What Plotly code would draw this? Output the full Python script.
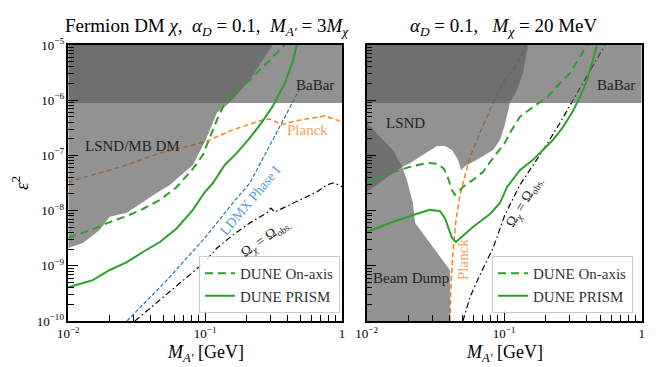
import plotly.graph_objects as go

# ---------------- data ----------------
# left panel: Fermion DM, alpha_D = 0.1, M_A' = 3 M_chi
babar_l_x = [0.01, 1.0, 1.0, 0.01]
babar_l_y = [8.9e-7, 8.9e-7, 1e-5, 1e-5]

lsnd_l_x = [0.01, 0.312, 0.264, 0.212, 0.170, 0.147, 0.122, 0.110, 0.101, 0.0813,
            0.0552, 0.0444, 0.0268, 0.0201, 0.0170, 0.0128, 0.01]
lsnd_l_y = [1e-5, 1e-5, 5.35e-6, 2.32e-6, 1.24e-6, 8.5e-7, 5.9e-7, 3.27e-7, 1.9e-7, 6.7e-8,
            2.9e-8, 2.1e-8, 9.1e-9, 7.7e-9, 4.5e-9, 2.6e-9, 2.1e-9]

planck_l_x = [0.01, 0.0151, 0.0268, 0.0467, 0.0995, 0.159, 0.264, 0.296, 0.363, 0.452,
              0.61, 0.747, 0.914, 1.0]
planck_l_y = [3.3e-8, 4.4e-8, 6.7e-8, 1.1e-7, 1.75e-7, 2.9e-7, 4.4e-7, 4.57e-7, 3.6e-7, 4.2e-7,
              4.8e-7, 5.2e-7, 4.4e-7, 3.9e-7]

ldmx_l_x = [0.0268, 0.0525, 0.0995, 0.159, 0.212, 0.351, 0.508]
ldmx_l_y = [1e-10, 5.5e-10, 3.2e-9, 1.37e-8, 3.16e-8, 3.27e-7, 1.88e-6]

omega_l_x = [0.0307, 0.0995, 0.122, 0.159, 0.212, 0.282, 0.302, 0.323, 0.369, 0.49,
             0.653, 0.773, 0.855, 0.962, 1.0]
omega_l_y = [1e-10, 1.17e-9, 2.1e-9, 3.6e-9, 5.96e-9, 9.06e-9, 1.11e-8, 9.4e-9, 1.11e-8, 1.56e-8,
             2.17e-8, 2.9e-8, 3.16e-8, 2.9e-8, 2.68e-8]

onaxis_l_x = [0.01, 0.0151, 0.0201, 0.0268, 0.0351, 0.0467, 0.0621, 0.0813, 0.0962, 0.108,
              0.122, 0.135, 0.159, 0.212, 0.264, 0.333, 0.382]
onaxis_l_y = [3.2e-9, 4.6e-9, 6.2e-9, 8.0e-9, 1.07e-8, 1.56e-8, 2.68e-8, 5.7e-8, 1.02e-7, 2.15e-7,
              4.4e-7, 7.5e-7, 1.35e-6, 2.32e-6, 4e-6, 7.2e-6, 1e-5]

prism_l_x = [0.01, 0.0151, 0.0201, 0.0268, 0.0351, 0.0467, 0.0621, 0.0813, 0.0995, 0.114,
             0.139, 0.170, 0.212, 0.26, 0.312, 0.382, 0.436, 0.467]
prism_l_y = [4.1e-10, 5.5e-10, 8.4e-10, 1.17e-9, 1.78e-9, 2.7e-9, 4.8e-9, 1.03e-8, 2.17e-8, 3.16e-8,
             6.7e-8, 1.1e-7, 2.07e-7, 4.0e-7, 7.8e-7, 2.05e-6, 4.9e-6, 1e-5]

# right panel: alpha_D = 0.1, M_chi = 20 MeV
babar_r_x = [0.01, 1.0, 1.0, 0.01]
babar_r_y = [8.9e-7, 8.9e-7, 1e-5, 1e-5]

lsnd_r_x = [0.01, 0.149, 0.137, 0.124, 0.110, 0.101, 0.0932, 0.083, 0.0634, 0.0519, 0.0486,
            0.0461, 0.0417, 0.0371, 0.0325, 0.0275, 0.0207, 0.0175, 0.01]
lsnd_r_y = [1e-5, 1e-5, 3.1e-6, 1.53e-6, 8.9e-7, 3.56e-7, 1.9e-7, 1.25e-7, 8.3e-8, 6.4e-8, 5.4e-8,
            8.3e-8, 1.25e-7, 1.48e-7, 1.48e-7, 1.15e-7, 7.3e-8, 5.9e-8, 2.17e-8]

beamdump_r_x = [0.01, 0.0155, 0.0181, 0.0196, 0.0217, 0.0225, 0.0403, 0.0403, 0.01]
beamdump_r_y = [3.9e-7, 1.25e-7, 6.2e-8, 3.6e-8, 1.37e-8, 5.96e-9, 8.4e-10, 1e-10, 1e-10]

planck_r_x = [0.0403, 0.041, 0.0425, 0.0446, 0.0477, 0.051, 0.0564, 0.0665, 0.083, 0.101, 0.124, 0.144]
planck_r_y = [1e-10, 4.5e-10, 1.93e-9, 6.8e-9, 1.92e-8, 3.6e-8, 9.35e-8, 2.55e-7, 8.9e-7, 2.32e-6, 4.5e-6, 1e-5]

omega_r_x = [0.0501, 0.0564, 0.0665, 0.083, 0.101, 0.13, 0.192, 0.255, 0.316, 0.421, 0.541]
omega_r_y = [1e-10, 2.72e-10, 6.8e-10, 2.1e-9, 8.3e-9, 2.9e-8, 1.25e-7, 3.9e-7, 1e-6, 3.5e-6, 1e-5]

onaxis_r_x = [0.01, 0.0155, 0.0207, 0.0275, 0.033, 0.0365, 0.039, 0.0417, 0.0438, 0.0501, 0.0593,
              0.070, 0.083, 0.101, 0.110, 0.130, 0.162, 0.205, 0.255, 0.301, 0.356, 0.40]
onaxis_r_y = [3.3e-8, 5.0e-8, 6.2e-8, 7.3e-8, 7.0e-8, 5.7e-8, 3.9e-8, 2.36e-8, 1.92e-8, 2.68e-8, 3.6e-8,
              5.0e-8, 9.0e-8, 1.68e-7, 2.55e-7, 5.0e-7, 7.5e-7, 1.14e-6, 2.05e-6, 3.1e-6, 6.1e-6, 1e-5]

prism_r_x = [0.01, 0.0148, 0.0217, 0.0288, 0.0341, 0.0371, 0.0397, 0.0417, 0.0446, 0.0501, 0.0593,
             0.0788, 0.0932, 0.105, 0.130, 0.162, 0.191, 0.226, 0.268, 0.311, 0.356, 0.40, 0.442, 0.473]
prism_r_y = [4.1e-9, 5.96e-9, 8.3e-9, 1.03e-8, 9.8e-9, 7.3e-9, 4.5e-9, 3.2e-9, 2.7e-9, 3.47e-9, 5.05e-9,
             8.7e-9, 1.37e-8, 2.68e-8, 5.4e-8, 8.3e-8, 1.25e-7, 1.9e-7, 3.27e-7, 5.9e-7, 1.14e-6, 2.32e-6,
             5.35e-6, 1e-5]

x_tickvals = [0.01, 0.1, 1]
x_ticktext = ["10<sup>−2</sup>", "10<sup>−1</sup>", "1"]
y_tickvals = [1e-10, 1e-9, 1e-8, 1e-7, 1e-6, 1e-5]
y_ticktext = ["10<sup>−10</sup>", "10<sup>−9</sup>", "10<sup>−8</sup>",
              "10<sup>−7</sup>", "10<sup>−6</sup>", "10<sup>−5</sup>"]

# ---------------- style ----------------
W, H = 664, 367
FONT = "Liberation Serif, DejaVu Serif, serif"
GRAY = "rgba(94,94,94,0.68)"
GREEN = "#2ca02c"
ORANGE = "#ff7f0e"
BLUE = "#1f77b4"
SP = "&nbsp;"


def P(px, py):
    # pixel position -> paper coords
    return px / W, 1 - py / H


fig = go.Figure()


def add_line(x, y, color, width, dash, xa, ya, name=None, legend=None):
    fig.add_trace(go.Scatter(
        x=x, y=y, mode='lines', xaxis=xa, yaxis=ya,
        line=dict(color=color, width=width, dash=dash),
        name=name, showlegend=name is not None, legend=legend,
        hoverinfo='skip'))


def add_fill(x, y, xa, ya):
    fig.add_trace(go.Scatter(
        x=x, y=y, mode='lines', fill='toself', fillcolor=GRAY,
        line=dict(width=0), xaxis=xa, yaxis=ya, showlegend=False, hoverinfo='skip'))


# left panel
add_line(planck_l_x, planck_l_y, ORANGE, 1.5, "5px,3px", 'x', 'y')
add_line(ldmx_l_x, ldmx_l_y, BLUE, 1.2, "4px,2px", 'x', 'y')
add_line(omega_l_x, omega_l_y, 'black', 1.2, "6px,3px,1.5px,3px", 'x', 'y')
add_fill(babar_l_x, babar_l_y, 'x', 'y')
add_fill(lsnd_l_x, lsnd_l_y, 'x', 'y')
add_line(onaxis_l_x, onaxis_l_y, GREEN, 2, "8px,5px", 'x', 'y', "DUNE On-axis", "legend")
add_line(prism_l_x, prism_l_y, GREEN, 2, "solid", 'x', 'y', "DUNE PRISM", "legend")

# right panel
add_line(planck_r_x, planck_r_y, ORANGE, 1.5, "5px,3px", 'x2', 'y2')
add_line(omega_r_x, omega_r_y, 'black', 1.2, "6px,3px,1.5px,3px", 'x2', 'y2')
add_fill(babar_r_x, babar_r_y, 'x2', 'y2')
add_fill(lsnd_r_x, lsnd_r_y, 'x2', 'y2')
add_fill(beamdump_r_x, beamdump_r_y, 'x2', 'y2')
add_line(onaxis_r_x, onaxis_r_y, GREEN, 2, "8px,5px", 'x2', 'y2', "DUNE On-axis", "legend2")
add_line(prism_r_x, prism_r_y, GREEN, 2, "solid", 'x2', 'y2', "DUNE PRISM", "legend2")

minor_x = [k * 10 ** e for e in (-2, -1) for k in range(2, 10)]
minor_y = [k * 10 ** e for e in range(-10, -5) for k in range(2, 10)]

axis_common = dict(type='log', showgrid=False, zeroline=False, showline=True, linecolor='black',
                   linewidth=1.5, mirror=True, ticks='inside', ticklen=10, tickwidth=1,
                   tickcolor='black', tickmode='array',
                   tickfont=dict(family=FONT, size=13, color='black'))

xdom_l = [68.3 / W, 342 / W]
xdom_r = [366.7 / W, 641.7 / W]
ydom = [1 - 321 / H, 1 - 45 / H]

legend_style = dict(bgcolor='rgba(255,255,255,0.85)', bordercolor='#cccccc', borderwidth=1,
                    font=dict(family=FONT, size=15, color='#333'), tracegroupgap=0,
                    itemwidth=30, yanchor='bottom', xanchor='right', y=1 - 313 / H)

fig.update_layout(
    width=W, height=H,
    margin=dict(l=0, r=0, t=0, b=0, autoexpand=False),
    paper_bgcolor='white', plot_bgcolor='white',
    font=dict(family=FONT, color='black'),
    xaxis=dict(axis_common, domain=xdom_l, range=[-2, 0], anchor='y',
               tickvals=x_tickvals, ticktext=x_ticktext,
               minor=dict(ticks='inside', ticklen=6, tickvals=minor_x, tickcolor='black')),
    yaxis=dict(axis_common, domain=ydom, range=[-10, -5], anchor='x',
               tickvals=y_tickvals, ticktext=y_ticktext,
               minor=dict(ticks='inside', ticklen=6, tickvals=minor_y, tickcolor='black')),
    xaxis2=dict(axis_common, domain=xdom_r, range=[-2, 0], anchor='y2',
                tickvals=x_tickvals, ticktext=x_ticktext,
                minor=dict(ticks='inside', ticklen=6, tickvals=minor_x, tickcolor='black')),
    yaxis2=dict(axis_common, domain=ydom, range=[-10, -5], anchor='x2',
                tickvals=y_tickvals, ticktext=y_ticktext, showticklabels=False,
                minor=dict(ticks='inside', ticklen=6, tickvals=minor_y, tickcolor='black')),
    legend=dict(legend_style, x=340 / W),
    legend2=dict(legend_style, x=633 / W),
)

labels = [
    # text, px, py, size, color, angle
    ("Fermion DM <i>χ</i>,  <i>α</i><sub><i>D</i></sub> = 0.1,  <i>M</i><sub><i>A′</i></sub> = 3<i>M</i><sub><i>χ</i></sub>",
     207, 27, 19, 'black', 0),
    (f"<i>α</i><sub><i>D</i></sub>{SP}={SP}0.1,{SP}{SP}{SP}<i>M</i><sub><i>χ</i></sub>{SP}={SP}20{SP}MeV",
     504, 27, 19, 'black', 0),
    ("<i>M</i><sub><i>A′</i></sub> [GeV]", 205, 353, 18, 'black', 0),
    ("<i>M</i><sub><i>A′</i></sub> [GeV]", 504, 353, 18, 'black', 0),
    ("<i>ε</i><sup>2</sup>", 20, 183, 19, 'black', -90),
    ("BaBar", 315, 85, 15, '#222', 0),
    ("LSND/MB DM", 132, 146, 15, '#222', 0),
    ("Planck", 307, 130, 15, '#f7a25c', 0),
    ("LDMX Phase I", 250, 200, 14, '#5b9bd0', -50),
    ("Ω<sub><i>χ</i></sub> = Ω<sub>obs.</sub>", 266, 239, 14, '#222', -35),
    ("LSND", 405, 123, 15, '#222', 0),
    ("BaBar", 616, 85, 15, '#222', 0),
    ("Beam Dump", 411, 278, 15, '#222', 0),
    ("Planck", 463, 260, 15, '#f7a25c', -90),
    ("Ω<sub><i>χ</i></sub> = Ω<sub>obs.</sub>", 524, 202, 14, '#222', -59),
]
for text, px, py, size, color, angle in labels:
    ax, ay = P(px, py)
    fig.add_annotation(text=text, x=ax, y=ay, xref='paper', yref='paper',
                       xanchor='center', yanchor='middle', showarrow=False,
                       textangle=angle, font=dict(family=FONT, size=size, color=color))

# drop the default 8px body margin so the figure sits at the page origin
fig.write_html("out.html", config={'displayModeBar': False},
               post_script="document.body.style.margin='0';")
